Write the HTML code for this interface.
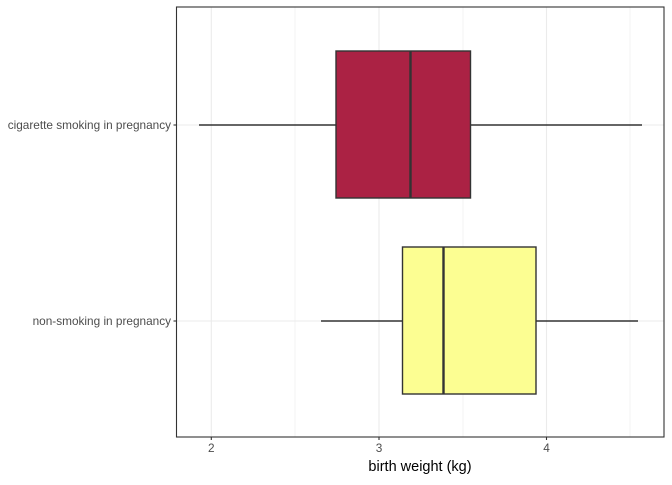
<!DOCTYPE html>
<html><head><style>body{margin:0;background:#fff}</style></head><body>
<svg width="672" height="480" xmlns="http://www.w3.org/2000/svg" font-family="Liberation Sans, sans-serif">
<rect width="672" height="480" fill="#fff"/>
<g stroke="#ebebeb" stroke-width="0.6">
<line x1="295" y1="7" x2="295" y2="437"/><line x1="463" y1="7" x2="463" y2="437"/><line x1="630" y1="7" x2="630" y2="437"/>
</g>
<g stroke="#ebebeb" stroke-width="1.1">
<line x1="211.3" y1="7" x2="211.3" y2="437"/><line x1="379" y1="7" x2="379" y2="437"/><line x1="546.5" y1="7" x2="546.5" y2="437"/>
<line x1="176.5" y1="125" x2="664" y2="125"/><line x1="176.5" y1="321" x2="664" y2="321"/>
</g>
<g stroke="#333" stroke-width="1.4">
<line x1="199" y1="125" x2="336" y2="125"/><line x1="470.5" y1="125" x2="642" y2="125"/>
<rect x="336" y="51" width="134.5" height="147" fill="#ab2244"/>
<line x1="410.5" y1="51" x2="410.5" y2="198" stroke-width="2.4"/>
<line x1="321" y1="321" x2="402" y2="321"/><line x1="536" y1="321" x2="638" y2="321"/>
<rect x="402.5" y="247" width="133.5" height="147" fill="#fcfe92"/>
<line x1="443.5" y1="247" x2="443.5" y2="394" stroke-width="2.4"/>
</g>
<rect x="176.5" y="7" width="487.5" height="430" fill="none" stroke="#333" stroke-width="1.1"/>
<g stroke="#333" stroke-width="1.1">
<line x1="211.3" y1="437" x2="211.3" y2="440"/><line x1="379" y1="437" x2="379" y2="440"/><line x1="546.5" y1="437" x2="546.5" y2="440"/>
<line x1="173.5" y1="125" x2="176.5" y2="125"/><line x1="173.5" y1="321" x2="176.5" y2="321"/>
</g>
<g font-size="11.8" fill="#4d4d4d" text-anchor="middle">
<text x="211.3" y="452">2</text><text x="379" y="452">3</text><text x="546.5" y="452">4</text>
</g>
<g font-size="11.8" fill="#4d4d4d" text-anchor="end">
<text x="171" y="129">cigarette smoking in pregnancy</text><text x="171" y="325">non-smoking in pregnancy</text>
</g>
<text x="420" y="471" font-size="14.5" text-anchor="middle" fill="#000">birth weight (kg)</text>
</svg>
</body></html>
